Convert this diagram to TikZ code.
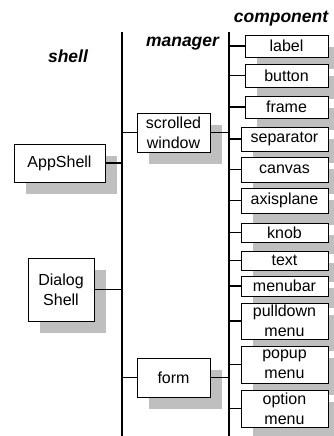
\documentclass[tikz,border=0pt]{standalone}
\usepackage{fontspec}
\setsansfont{Liberation Sans}
\usetikzlibrary{shadows}

\newcommand{\wfont}{\fontsize{16}{20}\selectfont\sffamily}
\newcommand{\hfont}{\fontsize{17.5}{20}\selectfont\sffamily\bfseries\itshape}

\tikzset{
	widget/.style={draw, fill=white, line width=0.9pt, inner sep=0pt, align=center, font=\wfont,
		general shadow={fill=black!25, shadow xshift=12pt, shadow yshift=-12pt}},
	heading/.style={font=\hfont, anchor=base},
	rail/.style={line width=1.7pt},
	tick/.style={line width=1.7pt}
}

\begin{document}
\begin{tikzpicture}[x=1pt, y=-1pt]
		\useasboundingbox (0, 0) rectangle (333, 436);

		\coordinate (mgrtop) at (122, 32);
		\coordinate (mgrbot) at (122, 436);
		\coordinate (cmptop) at (229, 32);
		\coordinate (cmpbot) at (229, 436);

		% headings
		\node[heading] (hshell) at (68, 62.5) {shell};
		\node[heading] (hmgr) at (182.5, 47) {manager};
		\node[heading] (hcmp) at (281, 23) {component};

		% shells
		\node[widget, minimum width=91, minimum height=38] (apps) at (59.5, 163) {AppShell};
		\node[widget, minimum width=66, minimum height=63] (dlgs) at (61, 289.5) {Dialog\\Shell};

		% managers
		\node[widget, minimum width=73, minimum height=39] (scw) at (173.5, 132.5) {scrolled\\window};
		\node[widget, minimum width=73, minimum height=39] (form) at (173.5, 377.5) {form};

		% components
		\node[widget, minimum width=83, minimum height=22] (lbl) at (286.5, 46) {label};
		\node[widget, minimum width=83, minimum height=23] (btn) at (286.5, 75.5) {button};
		\node[widget, minimum width=83, minimum height=22] (frm) at (286.5, 107) {frame};
		\node[widget, minimum width=87, minimum height=24] (sep) at (284.5, 139) {separator};
		\node[widget, minimum width=87, minimum height=25] (cnv) at (284.5, 169.5) {canvas};
		\node[widget, minimum width=87, minimum height=25] (axp) at (284.5, 200.5) {axisplane};
		\node[widget, minimum width=87, minimum height=19] (knb) at (284.5, 232.5) {knob};
		\node[widget, minimum width=87, minimum height=19] (txt) at (284.5, 260.5) {text};
		\node[widget, minimum width=87, minimum height=20] (mbar) at (284.5, 286) {menubar};
		\node[widget, minimum width=87, minimum height=36] (pdm) at (284.5, 321) {pulldown\\menu};
		\node[widget, minimum width=87, minimum height=37] (pum) at (284.5, 364.5) {popup\\menu};
		\node[widget, minimum width=87, minimum height=37] (opm) at (284.5, 408.5) {option\\menu};

		\draw[rail] (mgrtop) -- (mgrbot);
		\draw[rail] (cmptop) -- (cmpbot);

		\draw[tick] (apps.east) -- (apps.east -| mgrtop);
		\draw[tick] (dlgs.east) -- (dlgs.east -| mgrtop);
		\foreach \m in {scw, form} {
			\draw[tick] (\m.west) -- (\m.west -| mgrtop);
			\draw[tick] (\m.east) -- (\m.east -| cmptop);
		}
		\foreach \c in {lbl, btn, frm, sep, cnv, axp, knb, txt, mbar, pdm, pum, opm}
			\draw[tick] (\c.west) -- (\c.west -| cmptop);
	\end{tikzpicture}
\end{document}
